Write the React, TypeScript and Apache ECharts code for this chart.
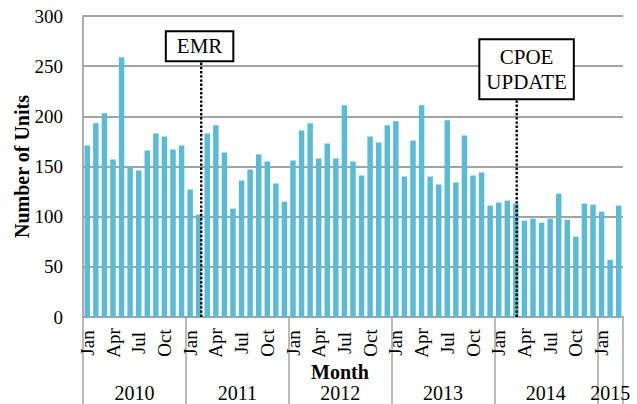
import React, { useEffect, useRef } from "react";
import * as echarts from "echarts";

const monthNames = ["Jan", "Feb", "Mar", "Apr", "May", "Jun", "Jul", "Aug", "Sep", "Oct", "Nov", "Dec"];
const yearLabels = ["2010", "2011", "2012", "2013", "2014", "2015"];
const monthsPerYear = [12, 12, 12, 12, 12, 3];
const units = [
  171, 193, 203, 157, 259, 149, 146, 166, 183, 180, 167, 171,
  127, 102, 183, 191, 164, 108, 136, 147, 162, 155, 133, 115,
  156, 186, 193, 158, 173, 158, 211, 155, 141, 180, 174, 191,
  195, 140, 176, 211, 140, 132, 196, 134, 181, 141, 144, 111,
  114, 116, 113, 96, 98, 94, 98, 123, 97, 80, 113, 112,
  105, 57, 111,
];
const yMin = 0;
const yMax = 300;
const yStep = 50;
// annotations: position in months counted from Jan 2010
const annotationTexts = ["EMR", "CPOE\nUPDATE"];
const annotationLineX = [13.79, 50.6];
const annotationTop = [254, 216];
const annotationBoxX = [13.6, 51.75];

const FONT = "Liberation Serif";
const GRID_GRAY = "#A3A3A3";
const BAR_COLOR = "#5BBAD5";

export default function App() {
  const ref = useRef<HTMLDivElement>(null);

  useEffect(() => {
    if (!ref.current) return;
    const chart = echarts.init(ref.current, null, { renderer: "svg" });

    const categories: string[] = [];
    const yearStarts: number[] = [];
    let start = 0;
    yearLabels.forEach((y, yi) => {
      yearStarts.push(start);
      for (let m = 0; m < monthsPerYear[yi]; m++) categories.push(`${monthNames[m]} ${y}`);
      start += monthsPerYear[yi];
    });
    const total = start;
    const yearCenters = yearStarts.map((s, i) => s + monthsPerYear[i] / 2);
    const yearBounds = [...yearStarts, total];

    const annotationSeries = annotationTexts.map((txt, i) => ({
      type: "line" as const,
      xAxisIndex: 1,
      yAxisIndex: 0,
      z: 10,
      silent: true,
      symbol: "none",
      data: [
        [annotationLineX[i], 0],
        [annotationLineX[i], annotationTop[i]],
      ],
      lineStyle: { color: "#000", width: 2.4, type: [2.4, 1.8] },
      markPoint: {
        silent: true,
        symbol: "circle",
        symbolSize: 0,
        data: [{ coord: [annotationBoxX[i], annotationTop[i]] }],
        label: {
          show: true,
          position: "top",
          distance: 2,
          formatter: txt,
          color: "#000",
          fontFamily: FONT,
          fontSize: 21,
          lineHeight: i === 0 ? 22 : 25,
          backgroundColor: "#fff",
          borderColor: "#000",
          borderWidth: 2,
          padding: i === 0 ? [3, 10] : [4, 6],
          align: "center",
        },
      },
    }));

    chart.setOption({
      animation: false,
      textStyle: { fontFamily: FONT, color: "#000" },
      grid: { left: 83, right: 14, top: 16, bottom: 87, containLabel: false, outerBoundsMode: "none" },
      xAxis: [
        {
          type: "category",
          data: categories,
          boundaryGap: true,
          axisLine: { show: true, lineStyle: { color: GRID_GRAY, width: 1.8 } },
          axisTick: { show: false },
          axisLabel: {
            interval: 2,
            rotate: 90,
            align: "center",
            verticalAlign: "middle",
            margin: 26,
            fontSize: 19,
            color: "#000",
            fontFamily: FONT,
            formatter: (v: string) => v.split(" ")[0],
          },
          splitLine: { show: false },
        },
        {
          type: "value",
          position: "bottom",
          min: 0,
          max: total,
          axisLine: { show: false },
          splitLine: { show: false },
          axisTick: {
            show: true,
            customValues: yearBounds,
            length: 95,
            lineStyle: { color: GRID_GRAY, width: 1.5 },
          },
          axisLabel: {
            show: true,
            customValues: yearCenters,
            margin: 76,
            verticalAlign: "middle",
            fontSize: 20,
            color: "#000",
            fontFamily: FONT,
            formatter: (v: number) => {
              const idx = yearCenters.findIndex((c) => Math.abs(c - v) < 1e-6);
              return idx >= 0 ? yearLabels[idx] : "";
            },
          },
        },
      ],
      yAxis: {
        type: "value",
        min: yMin,
        max: yMax,
        interval: yStep,
        name: "Number of Units",
        nameLocation: "middle",
        nameGap: 51,
        nameMoveOverlap: false,
        nameTextStyle: { fontFamily: FONT, fontSize: 20, fontWeight: "bold", color: "#000" },
        axisLine: { show: true, lineStyle: { color: GRID_GRAY, width: 1.8 } },
        axisTick: { show: false },
        axisLabel: { fontSize: 19, color: "#000", margin: 20, fontFamily: FONT },
        splitLine: { show: true, lineStyle: { color: GRID_GRAY, width: 1.8 } },
      },
      graphic: [
        {
          type: "text",
          x: 340,
          y: 372,
          style: {
            text: "Month",
            align: "center",
            verticalAlign: "middle",
            fontFamily: FONT,
            fontSize: 20,
            fontWeight: "bold",
            fill: "#000",
          },
        },
      ],
      series: [
        {
          type: "bar",
          xAxisIndex: 0,
          yAxisIndex: 0,
          data: units,
          barCategoryGap: "36%",
          itemStyle: { color: BAR_COLOR },
          silent: true,
        },
        ...annotationSeries,
      ],
    });

    return () => chart.dispose();
  }, []);

  return (
    <div
      ref={ref}
      style={{ position: "fixed", left: 0, top: 0, width: 637, height: 404, background: "#fff" }}
    />
  );
}
